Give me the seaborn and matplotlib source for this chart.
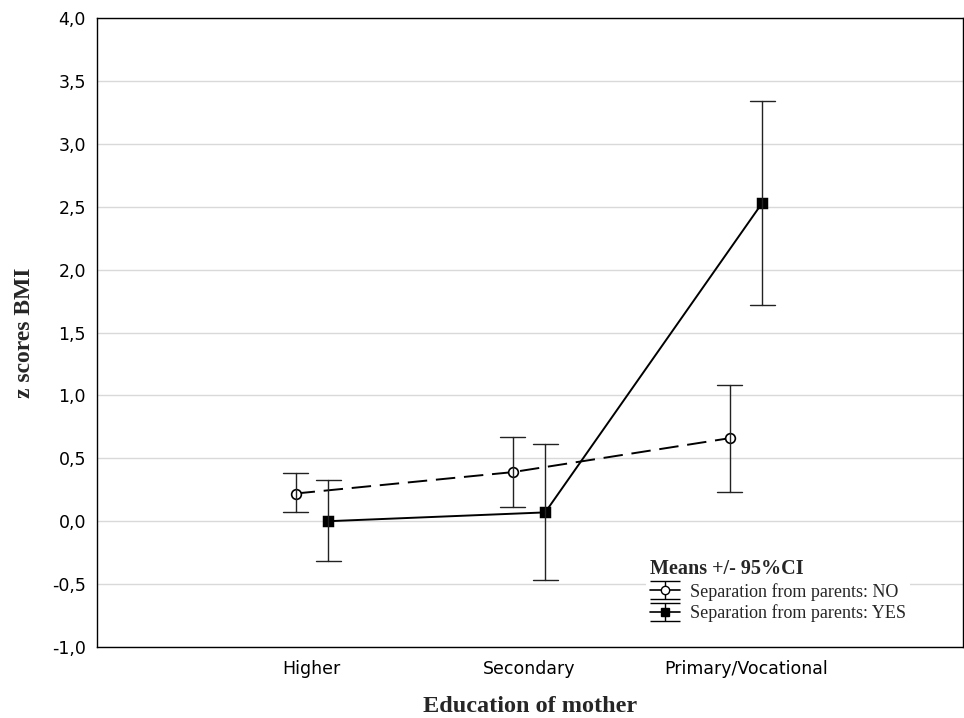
import numpy as np
import pandas as pd
import matplotlib
matplotlib.use("Agg")
import matplotlib.pyplot as plt
import seaborn as sns
from matplotlib.ticker import FuncFormatter, MultipleLocator

# ---- data ----
categories = ["Higher", "Secondary", "Primary/Vocational"]
groups = ["Separation from parents: NO", "Separation from parents: YES"]
mean_no = [0.22, 0.39, 0.66]
low_no = [0.07, 0.11, 0.23]
high_no = [0.38, 0.67, 1.08]
mean_yes = [0.00, 0.07, 2.53]
low_yes = [-0.32, -0.47, 1.72]
high_yes = [0.33, 0.61, 3.34]

rows = []
for g, m, lo, hi in [(groups[0], mean_no, low_no, high_no),
                     (groups[1], mean_yes, low_yes, high_yes)]:
    for c, mv, lv, hv in zip(categories, m, lo, hi):
        for v in (lv, mv, hv):
            rows.append({"cat": c, "grp": g, "val": v})
df = pd.DataFrame(rows)

sns.set_style("white")
plt.rcParams["font.family"] = ["DejaVu Sans"]
SERIF = ["Liberation Serif", "DejaVu Serif"]

fig = plt.figure(figsize=(9.64, 7.18), dpi=100)
ax = fig.add_axes([97 / 964, 1 - 647 / 718, 866 / 964, 629 / 718])

sns.pointplot(
    data=df, x="cat", y="val", hue="grp", order=categories, hue_order=groups,
    estimator="median", errorbar=lambda v: (v.min(), v.max()),
    dodge=0.15, markers=["o", "s"], linestyles=[(0, (10, 4.5)), "-"],
    palette=["black", "black"], capsize=0.115,
    err_kws={"linewidth": 1.0, "color": "#222222"},
    linewidth=1.4, markersize=7, ax=ax, legend=False,
)

# open circle for NO
for ln in ax.lines:
    if ln.get_marker() == "o":
        ln.set_markerfacecolor("white")
        ln.set_markeredgecolor("black")
        ln.set_markeredgewidth(1.2)
        ln.set_markersize(7)
    if ln.get_marker() == "s":
        ln.set_markersize(7)

ax.set_xlim(-0.99, 3.0)
ax.set_ylim(-1.0, 4.0)
ax.yaxis.set_major_locator(MultipleLocator(0.5))
ax.yaxis.set_major_formatter(FuncFormatter(lambda v, p: f"{v:.1f}".replace(".", ",")))
ax.yaxis.grid(True, color="#d9d9d9", linewidth=1.0)
ax.xaxis.grid(False)
ax.set_axisbelow(True)

for s in ax.spines.values():
    s.set_visible(True)
    s.set_color("black")
    s.set_linewidth(1.0)

ax.tick_params(axis="both", direction="in", length=3, width=1, colors="black",
               labelsize=12.5, pad=8)
ax.tick_params(axis="x", pad=9)

ax.set_xlabel("Education of mother", fontsize=17.5, fontweight="bold",
              family=SERIF, labelpad=13)
ax.set_ylabel("z scores BMI", fontsize=17, fontweight="bold",
              family=SERIF, labelpad=12)

# legend with errorbar-style handles
h_no = ax.errorbar([np.nan], [np.nan], yerr=[[np.nan], [np.nan]], fmt="o",
                   mfc="white", mec="black", color="black", ms=6, capsize=11,
                   ecolor="black", elinewidth=1.0, linestyle="-", lw=1.2)
h_yes = ax.errorbar([np.nan], [np.nan], yerr=[[np.nan], [np.nan]], fmt="s",
                    mfc="black", mec="black", color="black", ms=6, capsize=11,
                    ecolor="black", elinewidth=1.0, linestyle="-", lw=1.2)
leg = ax.legend([h_no, h_yes], groups, title="Means +/- 95%CI",
                loc="upper left", bbox_to_anchor=(0.634, 0.146),
                borderaxespad=0, frameon=True, framealpha=1,
                prop={"family": SERIF, "size": 13},
                handlelength=1.7, handletextpad=0.55, labelspacing=0.22,
                borderpad=0.2, alignment="left")
leg.get_frame().set_edgecolor("none")
leg.get_frame().set_facecolor("white")
leg.get_title().set_fontfamily(SERIF)
leg.get_title().set_fontweight("bold")
leg.get_title().set_fontsize(14.5)

fig.savefig("out.png", dpi=100)
